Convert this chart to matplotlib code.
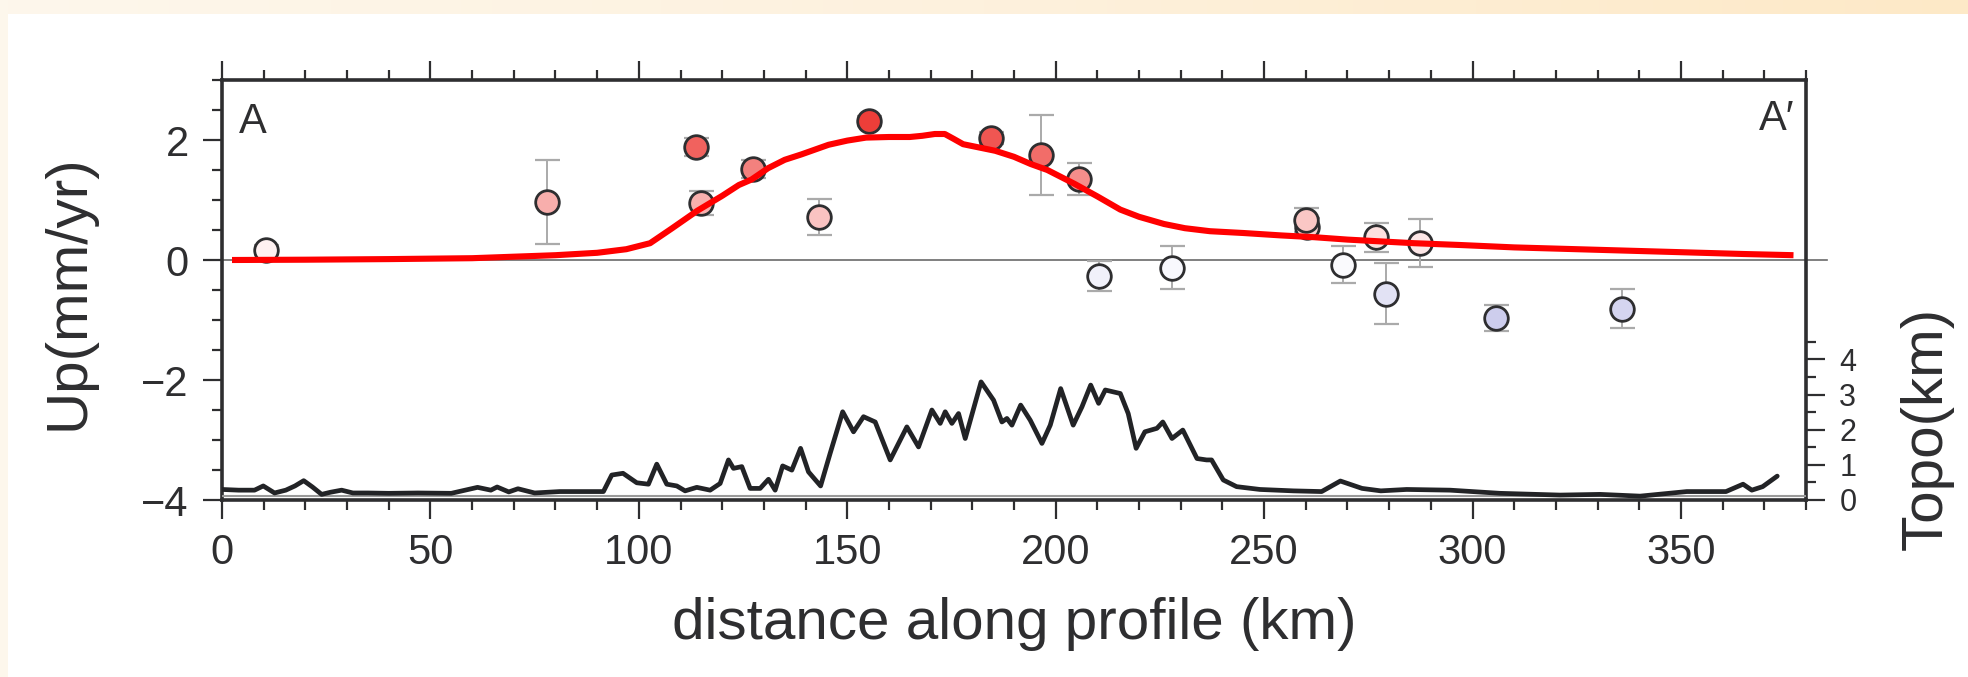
import matplotlib
matplotlib.use("Agg")
import matplotlib.pyplot as plt
import numpy as np
from matplotlib.ticker import MultipleLocator, FixedLocator
from matplotlib.colors import LinearSegmentedColormap, Normalize
from matplotlib.patches import Rectangle
from matplotlib import font_manager

# ---------------- data ----------------
# GPS vertical velocities along the profile
site_dist = [10.5, 77.9, 113.7, 114.9, 127.3, 143.1, 155.3, 184.5, 196.5, 205.6,
             210.4, 228.0, 260.3, 260.1, 269.0, 276.9, 279.3, 287.5, 305.7, 335.8]
site_up = [0.17, 0.97, 1.89, 0.95, 1.51, 0.71, 2.32, 2.03, 1.75, 1.35,
           -0.27, -0.13, 0.55, 0.67, -0.08, 0.38, -0.56, 0.28, -0.97, -0.81]
site_err = [0.08, 0.70, 0.15, 0.20, 0.15, 0.30, 0.08, 0.10, 0.67, 0.27,
            0.25, 0.36, 0.15, 0.20, 0.31, 0.24, 0.51, 0.40, 0.22, 0.33]

# model uplift curve
model_dist = [2.4, 20, 40, 60, 80, 90, 97, 102.7, 108, 114, 120, 124, 127, 131, 135,
              139, 145.5, 150, 154.5, 160, 165, 168, 171, 173.4, 175.5, 177.8, 182,
              185.5, 190, 194, 198, 204.5, 210, 215.5, 220, 226, 231, 237, 245, 254,
              262, 270, 286, 297, 310, 330, 350, 365, 377]
model_up = [0.0, 0.005, 0.015, 0.03, 0.08, 0.12, 0.18, 0.28, 0.53, 0.82, 1.07, 1.25,
            1.34, 1.53, 1.67, 1.76, 1.92, 1.99, 2.04, 2.05, 2.05, 2.07, 2.10, 2.10,
            2.02, 1.93, 1.87, 1.82, 1.72, 1.60, 1.50, 1.27, 1.06, 0.84, 0.72, 0.60,
            0.53, 0.48, 0.45, 0.41, 0.38, 0.34, 0.28, 0.25, 0.21, 0.17, 0.13, 0.10,
            0.08]

# topography along the profile (km)
topo_dist = [0, 4, 7.8, 9.9, 12.6, 15.3, 17.5, 19.6, 21.7, 23.9,
             26, 28.7, 31.4, 35, 40, 47, 55, 61.3, 64.5, 66,
             68.8, 71, 75, 81, 86, 91.5, 93.5, 96.2, 99.5, 102.3,
             104.3, 106.7, 109.1, 111.1, 113.9, 117.1, 119.5, 121.5, 122.7, 124.7,
             126.7, 129.1, 131.1, 132.7, 134.5, 136.7, 138.8, 140.7, 143.6, 145.9,
             148.9, 151.5, 153.9, 156.7, 160.3, 164.3, 167.1, 170.3, 172.3, 173.5,
             175.1, 176.7, 178.3, 182.1, 185.1, 187.1, 188.3, 189.5, 191.6, 193.9,
             196.7, 198.7, 201.2, 204.2, 206.3, 208.4, 210.3, 211.9, 215.5, 217.4,
             219.3, 221.4, 224.3, 225.7, 227.9, 230.5, 233.9, 236.2, 237.4, 240.2,
             243.4, 249, 257, 263.8, 268.3, 273.5, 278, 284.2, 294.6, 306.6,
             321, 330.6, 340.2, 351.4, 360.8, 364.9, 367, 369.6, 373.1]
topo_km = [0.30, 0.28, 0.28, 0.40, 0.20, 0.28, 0.40, 0.55, 0.37, 0.16,
           0.22, 0.28, 0.20, 0.20, 0.19, 0.20, 0.19, 0.36, 0.28, 0.37,
           0.23, 0.32, 0.20, 0.24, 0.24, 0.24, 0.71, 0.76, 0.49, 0.45,
           1.02, 0.45, 0.40, 0.26, 0.36, 0.28, 0.47, 1.14, 0.90, 0.95,
           0.33, 0.33, 0.59, 0.28, 0.97, 0.85, 1.47, 0.80, 0.40, 1.33,
           2.51, 1.94, 2.37, 2.22, 1.14, 2.08, 1.51, 2.56, 2.18, 2.51,
           2.18, 2.46, 1.75, 3.36, 2.84, 2.22, 2.32, 2.13, 2.70, 2.27,
           1.61, 2.13, 3.17, 2.13, 2.65, 3.27, 2.75, 3.13, 3.03, 2.46,
           1.47, 1.94, 2.04, 2.22, 1.75, 1.99, 1.18, 1.14, 1.14, 0.57,
           0.38, 0.30, 0.26, 0.24, 0.54, 0.33, 0.26, 0.30, 0.28, 0.19,
           0.14, 0.16, 0.11, 0.24, 0.24, 0.45, 0.28, 0.38, 0.68]

x_ticks = [0, 50, 100, 150, 200, 250, 300, 350]
up_ticks = [-4, -2, 0, 2]
topo_ticks = [0, 1, 2, 3, 4]

# ---------------- style ----------------
names = {f.name for f in font_manager.fontManager.ttflist}
main_font = "Liberation Sans" if "Liberation Sans" in names else "DejaVu Sans"
narrow_font = "Liberation Sans Narrow" if "Liberation Sans Narrow" in names else main_font
plt.rcParams["font.family"] = [main_font, "DejaVu Sans"]

ink = "#2e2e30"
W, H, DPI = 1968, 677, 100
fig = plt.figure(figsize=(W / DPI, H / DPI), dpi=DPI)
fig.patch.set_facecolor("white")

# cream slide border
bg = fig.add_axes([0, 0, 1, 1], zorder=-10)
cream = LinearSegmentedColormap.from_list("cream", ["#fdf7ec", "#fdf1dd", "#fde9c7"])
bg.imshow(np.linspace(0, 1, 256).reshape(1, -1), cmap=cream,
          extent=(0, W, 14, 0), aspect="auto")
bg.add_patch(Rectangle((0, 0), 8, H, color="#fdf7ec", lw=0))
bg.set_xlim(0, W)
bg.set_ylim(H, 0)
bg.axis("off")

ax = fig.add_axes([222 / W, 177 / H, 1584 / W, 420 / H])
ax.set_xlim(0, 380)
ax.set_ylim(-4, 3)

# point colours from a blue-white-red palette
pal = LinearSegmentedColormap.from_list("polar", ["#7f7fd0", "#ffffff", "#ec2f2a"])
norm = Normalize(vmin=-2.5, vmax=2.5)

# zero line
ax.plot([0, 385], [0, 0], color="#6a6a6a", lw=1.2, zorder=1, clip_on=False)

for xd, yv, ev in zip(site_dist, site_up, site_err):
    _, caps, bars = ax.errorbar(xd, yv, yerr=ev, fmt="none", ecolor="#aaaaaa",
                                elinewidth=1.4, capsize=9, capthick=1.6, zorder=2)
    for c in caps:
        c.set_color("#6e6e6e")
    ax.plot(xd, yv, "o", ms=17, mfc=pal(norm(yv)), mec=ink, mew=2.0, zorder=3)

ax.plot(model_dist, model_up, color="#ff0000", lw=4.4, solid_capstyle="butt", zorder=4)

# axes frame and ticks
for s in ax.spines.values():
    s.set_linewidth(2.6)
    s.set_color(ink)
ax.xaxis.set_major_locator(FixedLocator(x_ticks))
ax.xaxis.set_minor_locator(MultipleLocator(10))
ax.yaxis.set_major_locator(FixedLocator(up_ticks))
ax.yaxis.set_minor_locator(MultipleLocator(0.5))
ax.set_xticklabels([str(v) for v in x_ticks])
ax.set_yticklabels(["\u22124", "\u22122", "0", "2"])
ax.tick_params(axis="both", which="major", direction="out", length=14, width=1.6,
               color=ink, labelsize=30, labelcolor=ink, pad=10)
ax.tick_params(axis="both", which="minor", direction="out", length=7.5, width=1.6,
               color=ink)
ax.tick_params(axis="x", which="both", top=True, labeltop=False)
ax.tick_params(axis="y", which="both", right=False)

# topography on a secondary axis
ax2 = ax.twinx()
ax2.set_ylim(0, 11.95)
ax2.plot([0, 380], [0.12, 0.12], color="#9a9a9a", lw=1.5, zorder=1)
ax2.plot(topo_dist, topo_km, color="#222326", lw=3.4, zorder=2,
         solid_joinstyle="round", solid_capstyle="round")
for s in ax2.spines.values():
    s.set_visible(False)
ax2.yaxis.set_major_locator(FixedLocator(topo_ticks))
ax2.yaxis.set_minor_locator(FixedLocator([0.5, 1.5, 2.5, 3.5, 4.5]))
ax2.tick_params(axis="y", which="major", direction="out", length=14, width=1.6,
                color=ink, labelsize=22, labelcolor=ink, pad=10)
ax2.tick_params(axis="y", which="minor", direction="out", length=7.5, width=1.6,
                color=ink)

# profile end labels
ax.text(0.0107, 0.874, "A", transform=ax.transAxes, ha="left", va="baseline",
        fontsize=30, color=ink, family=[narrow_font, "DejaVu Sans"])
ax.text(0.9924, 0.88, "A\u2032", transform=ax.transAxes, ha="right", va="baseline",
        fontsize=30, color=ink, family=[narrow_font, "DejaVu Sans"])

# axis titles
fig.text(1014 / W, 1 - 624 / H, "distance along profile (km)", ha="center",
         va="center", fontsize=42, color=ink)
fig.text(68 / W, 1 - 292 / H, "Up(mm/yr)", ha="center", va="center",
         rotation=90, fontsize=42, color=ink)
fig.text(1927 / W, 1 - 428 / H, "Topo(km)", ha="center", va="center",
         rotation=90, fontsize=42, color=ink)

fig.savefig("out.png", dpi=DPI)
